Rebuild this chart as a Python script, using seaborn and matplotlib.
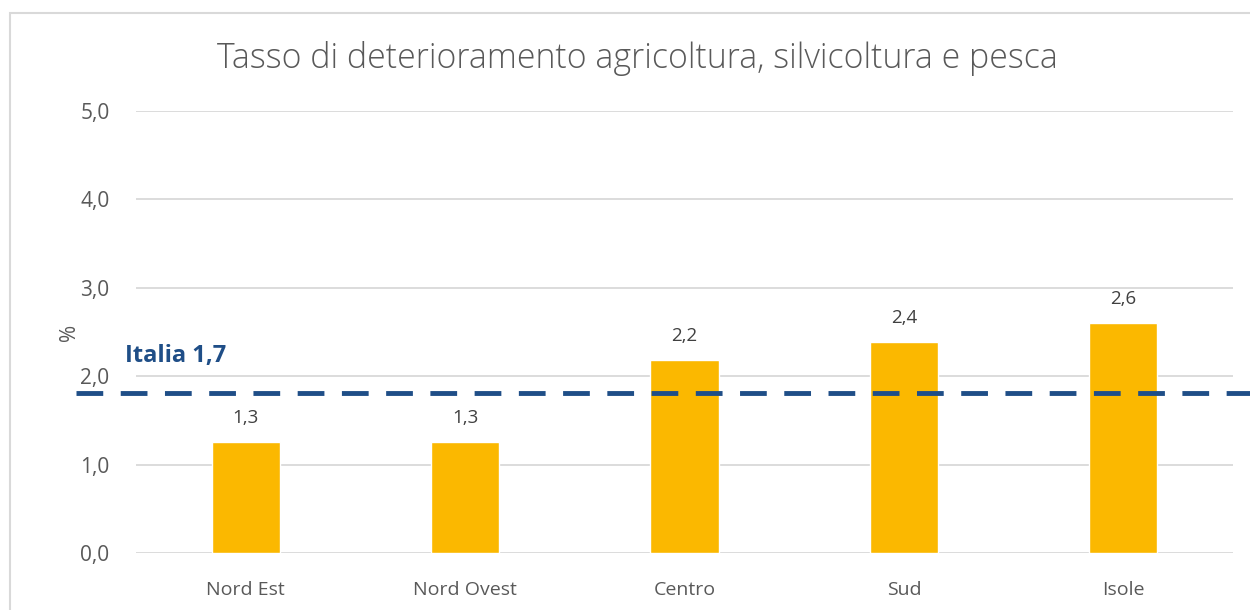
import matplotlib
matplotlib.use("Agg")
import matplotlib.pyplot as plt
import matplotlib.transforms as mtransforms
from matplotlib.patches import Rectangle
import seaborn as sns
import pandas as pd

# data
regions = ["Nord Est", "Nord Ovest", "Centro", "Sud", "Isole"]
rates = [1.26, 1.26, 2.19, 2.39, 2.6]
italia_label = "Italia 1,7"
italia_level = 1.81
y_ticks = [0, 1, 2, 3, 4, 5]

df = pd.DataFrame({"region": regions, "rate": rates})

sns.set_theme(style="white")
plt.rcParams["font.family"] = ["Open Sans", "DejaVu Sans"]

fig = plt.figure(figsize=(12.5, 6.1), dpi=100)
ax = fig.add_axes([0.1088, 0.093, 0.8776, 0.725])

sns.barplot(data=df, x="region", y="rate", color="#FBB800", width=0.31,
            saturation=1, ax=ax, zorder=2)

ax.set_ylim(0, 5)
ax.set_xlim(-0.5, len(regions) - 0.5)
ax.set_yticks(y_ticks)
ax.set_yticklabels([f"{v:.1f}".replace(".", ",") for v in y_ticks])
ax.grid(axis="y", color="#D9D9D9", linewidth=1.3, zorder=0)
ax.set_axisbelow(True)
for s in ax.spines.values():
    s.set_visible(False)
ax.tick_params(axis="both", length=0, labelsize=14, colors="#595959")
ax.tick_params(axis="x", pad=20)
ax.tick_params(axis="y", labelsize=15, pad=19)
ax.set_xlabel("")
ax.set_ylabel("%", fontsize=15, color="#595959", labelpad=0)

for i, v in enumerate(rates):
    ax.text(i, v + 0.17, f"{v:.1f}".replace(".", ","), ha="center", va="bottom",
            fontsize=13.5, color="#404040")

# national average line spanning the whole frame
trans = mtransforms.blended_transform_factory(fig.transFigure, ax.transData)
ax.plot([0.061, 1.0], [italia_level, italia_level], transform=trans,
        color="#1F4E87", linewidth=3.5, dashes=(5.5, 3.6), clip_on=False, zorder=3)
ax.text(0.1, italia_level + 0.29, italia_label, transform=trans, fontsize=17,
        fontweight="bold", color="#1F4E87", ha="left", va="bottom")

ax.set_title("Tasso di deterioramento agricoltura, silvicoltura e pesca",
             fontsize=24.4, color="#595959", pad=31, x=0.457, fontweight="light")

fig.patches.append(Rectangle((0.008, -0.1), 1.1, 1.079, transform=fig.transFigure,
                             fill=False, edgecolor="#D9D9D9", linewidth=1.5))

fig.savefig("out.png", dpi=100)
